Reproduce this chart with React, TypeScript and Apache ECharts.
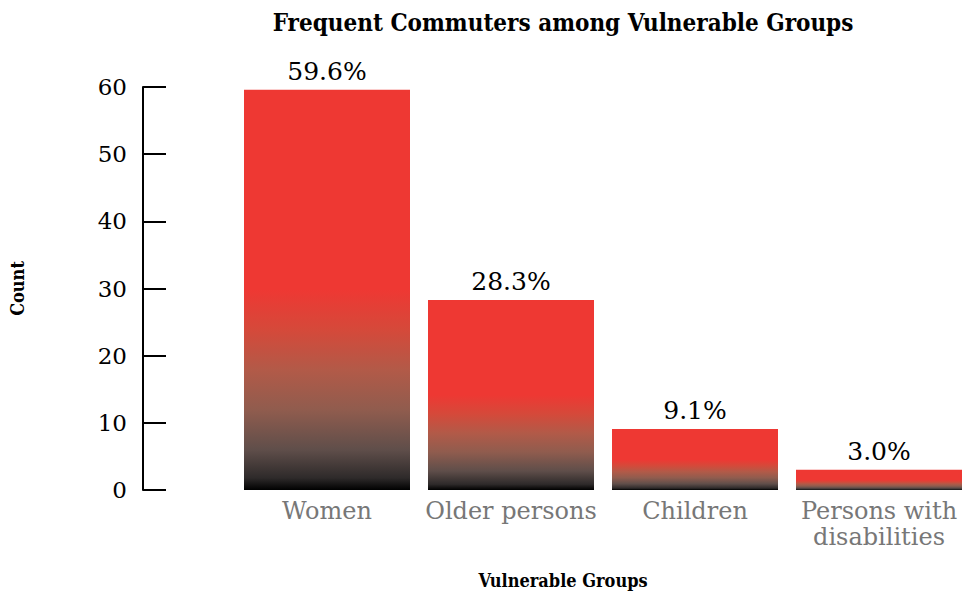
import React, { useEffect, useRef } from "react";
import * as echarts from "echarts";

const categories = ["Women", "Older persons", "Children", "Persons with\ndisabilities"];
const values = [59.6, 28.3, 9.1, 3.0];
const yTicks = { min: 0, max: 60, interval: 10 };
const FONT = "DejaVu Serif";
const TITLE_FONT = "'DejaVu Serif Condensed', 'Liberation Serif', serif";

export default function App() {
  const ref = useRef<HTMLDivElement>(null);
  useEffect(() => {
    const chart = echarts.init(ref.current!, null, { renderer: "svg" });
    const grad = new echarts.graphic.LinearGradient(0, 0, 0, 1, [
      { offset: 0, color: "#EE3833" },
      { offset: 0.5, color: "#EE3833" },
      { offset: 0.6, color: "#D5493A" },
      { offset: 0.7, color: "#B25A48" },
      { offset: 0.8, color: "#905C4E" },
      { offset: 0.9, color: "#5F4E4A" },
      { offset: 0.97, color: "#2E2A2A" },
      { offset: 1, color: "#000000" },
    ]);
    chart.setOption({
      animation: false,
      textStyle: { fontFamily: FONT },
      graphic: [
        {
          type: "text",
          x: 563,
          y: 22,
          style: {
            text: "Frequent Commuters among Vulnerable Groups",
            font: `bold 24px ${TITLE_FONT}`,
            fill: "#000",
            align: "center",
            verticalAlign: "middle",
          },
        },
        {
          type: "text",
          x: 563,
          y: 580,
          style: {
            text: "Vulnerable Groups",
            font: `bold 18px ${TITLE_FONT}`,
            fill: "#000",
            align: "center",
            verticalAlign: "middle",
          },
        },
      ],
      grid: { left: 235, width: 736, top: 87, height: 403, containLabel: false, outerBoundsMode: "none" },
      xAxis: {
        type: "category",
        data: categories,
        axisLine: { show: false },
        axisTick: { show: false },
        axisLabel: {
          color: "#777777",
          fontSize: 24,
          fontFamily: FONT,
          margin: 8,
          lineHeight: 26,
          interval: 0,
        },
      },
      yAxis: {
        type: "value",
        min: yTicks.min,
        max: yTicks.max,
        interval: yTicks.interval,
        offset: 92,
        name: "Count",
        nameLocation: "middle",
        nameGap: 117,
        nameRotate: 90,
        nameTextStyle: { fontWeight: "bold", fontSize: 18, color: "#000", fontFamily: TITLE_FONT },
        splitLine: { show: false },
        axisLine: { show: true, lineStyle: { color: "#000", width: 2 } },
        axisTick: { show: true, inside: true, length: 23, lineStyle: { color: "#000", width: 2 } },
        axisLabel: { color: "#000", fontSize: 23, fontFamily: FONT, margin: 16 },
      },
      series: [
        {
          type: "bar",
          data: values,
          barWidth: 166,
          itemStyle: { color: grad },
          label: {
            show: true,
            position: "top",
            distance: 6,
            color: "#000",
            fontSize: 25,
            fontFamily: FONT,
            formatter: (p: any) => p.value.toFixed(1) + "%",
          },
        },
      ],
    });
    return () => chart.dispose();
  }, []);
  return <div ref={ref} style={{ width: 966, height: 593, position: "absolute", left: 0, top: 0 }} />;
}
